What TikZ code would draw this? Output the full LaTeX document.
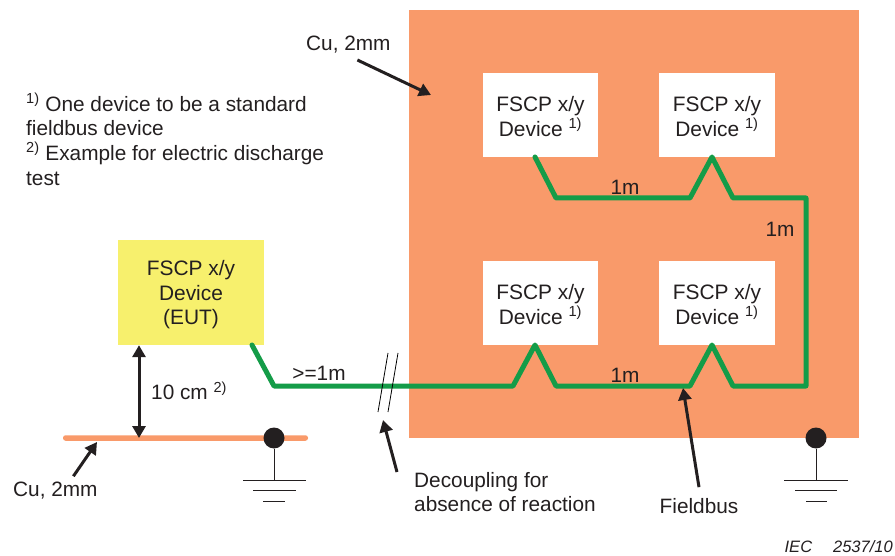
\documentclass[tikz,border=0pt]{standalone}
\usepackage{fontspec}
\setmainfont{Liberation Sans}
\usetikzlibrary{arrows.meta}
\definecolor{copper}{HTML}{F99A6A}
\definecolor{buscolor}{HTML}{149C48}
\definecolor{eutcolor}{HTML}{F7F06D}
\definecolor{inkcolor}{HTML}{231F20}
\tikzset{
  device/.style={shape=rectangle,fill=white,minimum width=115.5pt,minimum height=84pt,inner sep=0pt,align=center,font=\fontsize{20.9}{24.5}\selectfont,text=inkcolor},
  label/.style={inner sep=0pt,align=left,font=\fontsize{20.8}{24.6}\selectfont,text=inkcolor},
  pointer/.style={draw=inkcolor,line width=3pt,-{Triangle[length=12pt,width=13pt]}},
  wire/.style={draw=inkcolor,line width=0.9pt},
  gnddot/.style={shape=circle,fill=inkcolor,minimum size=21pt,inner sep=0pt}
}

\begin{document}
\begin{tikzpicture}[x=1pt,y=-1pt]
                \useasboundingbox (0,0) rectangle (895,556);
                \node[shape=rectangle,fill=copper,minimum width=450pt,minimum height=428pt,inner sep=0pt](Plate)at(634, 224){};
                \node[shape=rectangle,rounded corners=2.5pt,fill=copper,minimum width=245pt,minimum height=5.5pt,inner sep=0pt](CuBar)at(185.5, 438){};

                \node[device](D1)at(540.5, 115){\rule{0pt}{18pt}FSCP x/y\\Device \textsuperscript{1)}};
                \node[device](D2)at(717, 115){\rule{0pt}{18pt}FSCP x/y\\Device \textsuperscript{1)}};
                \node[device](D3)at(540.5, 303){\rule{0pt}{18pt}FSCP x/y\\Device \textsuperscript{1)}};
                \node[device](D4)at(717, 303){\rule{0pt}{18pt}FSCP x/y\\Device \textsuperscript{1)}};
                \node[device,fill=eutcolor,minimum width=146pt,minimum height=105pt](EUT)at(191, 292.5){\rule{0pt}{20pt}FSCP x/y\\Device\\(EUT)};

                \node[gnddot](Gnd1)at(274, 438){};
                \node[gnddot](Gnd2)at(816, 438){};
                \coordinate(Earth1)at(274, 480);
                \coordinate(Earth2)at(816, 480);

                \node[label,anchor=west](CuTop)at(306, 45){Cu, 2mm};
                \node[label,anchor=west](CuLow)at(13, 491){Cu, 2mm};
                \node[label,anchor=north west](Notes)at(26, 93){\textsuperscript{1)} One device to be a standard\\fieldbus device\\\textsuperscript{2)} Example for electric discharge\\test};
                \node[label,anchor=west](Gap)at(151, 391){10 cm \textsuperscript{2)}};
                \node[label](Len0)at(319, 373){>=1m};
                \node[label](Len1)at(625, 187){1m};
                \node[label](Len2)at(780, 229){1m};
                \node[label](Len3)at(625, 375){1m};
                \node[label,anchor=north west](Decoupling)at(414, 472){Decoupling for\\absence of reaction};
                \node[label](Fieldbus)at(699, 506){Fieldbus};
                \node[inner sep=0pt,anchor=east,font=\fontsize{16.5}{19}\selectfont\itshape,text=inkcolor](Tag)at(893, 547){IEC\hspace{21pt}2537/10};

                % bus tap points
                \coordinate(Tap0)at(252, 345);
                \coordinate(Tap1)at(535, 157);
                \coordinate(Tap2)at(712, 157);
                \coordinate(Tap3)at(535, 345);
                \coordinate(Tap4)at(712, 345);

                \draw[buscolor,line width=5pt,line join=round,line cap=round]
                (Tap0) -- (274, 386) -- (513, 386) -- (Tap3) -- (556, 386) -- (690, 386) -- (Tap4) -- (733, 386)
                -- (806, 386) -- (806, 198) -- (733, 198) -- (Tap2) -- (690, 198) -- (556, 198) -- (Tap1);

                \coordinate(TipTop)at(431, 95);
                \coordinate(TipLow)at(97, 442);
                \coordinate(TipDec)at(383, 420);
                \coordinate(TipBus)at(683, 388);
                \path[]
                ([shift={(9,15)}]CuTop.center) edge[pointer] (TipTop)
                ([shift={(18,-6)}]CuLow.north) edge[pointer] (TipLow)
                ([xshift=-17pt]Decoupling.north west) edge[pointer] (TipDec)
                ([yshift=11pt]Fieldbus.north) edge[pointer] (TipBus);
                \draw[pointer,{Triangle[length=12pt,width=13pt]}-{Triangle[length=12pt,width=13pt]}]
                ([xshift=-52pt]EUT.south) -- ([xshift=-46.5pt]CuBar.center);

                \coordinate(BreakA)at(378, 412);
                \coordinate(BreakB)at(388, 353);
                \coordinate(BreakC)at(388, 412);
                \coordinate(BreakD)at(398, 353);
                \draw[black,line width=0.8pt] (BreakA) -- (BreakB) (BreakC) -- (BreakD);

                \path[wire]
                (Gnd1) edge (Earth1)
                ([xshift=-31pt]Earth1) edge ([xshift=32pt]Earth1)
                ([shift={(-21,10)}]Earth1) edge ([shift={(22,10)}]Earth1)
                ([shift={(-11,21)}]Earth1) edge ([shift={(11,21)}]Earth1)
                (Gnd2) edge (Earth2)
                ([xshift=-32pt]Earth2) edge ([xshift=32pt]Earth2)
                ([shift={(-21,10)}]Earth2) edge ([shift={(21,10)}]Earth2)
                ([shift={(-10,21)}]Earth2) edge ([shift={(11,21)}]Earth2);
            \end{tikzpicture}
\end{document}
